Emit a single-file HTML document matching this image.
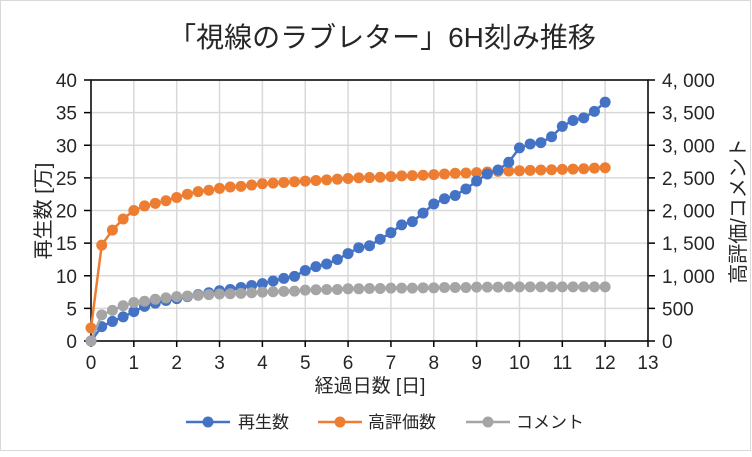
<!DOCTYPE html>
<html><head><meta charset="utf-8"><style>
body{margin:0;background:#fff}
svg text{font-family:"Liberation Sans","Noto Sans CJK JP",sans-serif;fill:#262626}
</style></head><body>
<svg id="s" width="752" height="452" xmlns="http://www.w3.org/2000/svg">
<rect x="0.5" y="0.5" width="750" height="450" fill="#fff" stroke="#d9d9d9"/>
<text x="382" y="47" text-anchor="middle" font-size="28">「視線のラブレター」6H刻み推移</text>
<g id="g"></g>
<text transform="translate(50,211) rotate(-90)" text-anchor="middle" font-size="20">再生数 [万]</text>
<text transform="translate(745,211) rotate(-90)" text-anchor="middle" font-size="20">高評価/コメント</text>
<text x="370" y="392" text-anchor="middle" font-size="19">経過日数 [日]</text>
<line x1="186" y1="422" x2="230" y2="422" stroke="#4472c4" stroke-width="2.5"/><circle cx="208" cy="422" r="5.5" fill="#4472c4"/>
<text x="238" y="428" font-size="17">再生数</text>
<line x1="318" y1="422" x2="362" y2="422" stroke="#ed7d31" stroke-width="2.5"/><circle cx="340" cy="422" r="5.5" fill="#ed7d31"/>
<text x="368" y="428" font-size="17">高評価数</text>
<line x1="466" y1="422" x2="510" y2="422" stroke="#a5a5a5" stroke-width="2.5"/><circle cx="488" cy="422" r="5.5" fill="#a5a5a5"/>
<text x="516" y="428" font-size="17">コメント</text>
</svg>
<script>
var g=document.getElementById('g'),h='';
var X0=91,X1=648,Y0=341,Y1=80,ux=(X1-X0)/13,uy=(Y0-Y1)/40;
function X(v){return X0+v*ux}function YL(v){return Y0-v*uy}function YR(v){return Y0-v*uy/100}
for(var i=0;i<=8;i++){var y=YL(i*5);h+='<line x1="'+X0+'" y1="'+y+'" x2="'+X1+'" y2="'+y+'" stroke="#d9d9d9" stroke-width="1.5"/>';
h+='<line x1="'+(X0-7)+'" y1="'+y+'" x2="'+X0+'" y2="'+y+'" stroke="#000" stroke-width="1.5"/><line x1="'+X1+'" y1="'+y+'" x2="'+(X1+7)+'" y2="'+y+'" stroke="#000" stroke-width="1.5"/>';
h+='<text x="'+(X0-14)+'" y="'+(y+7)+'" text-anchor="end" font-size="19">'+(i*5)+'</text>';
var r=i*500;var rs=r>=1000?Math.floor(r/1000)+', '+String(r%1000).padStart(3,'0'):r;
h+='<text x="'+(X1+14)+'" y="'+(y+7)+'" font-size="19">'+rs+'</text>';}
for(var i=0;i<=13;i++){var x=X(i);h+='<line x1="'+x+'" y1="'+Y1+'" x2="'+x+'" y2="'+Y0+'" stroke="#d9d9d9" stroke-width="1.5"/>';
h+='<line x1="'+x+'" y1="'+Y0+'" x2="'+x+'" y2="'+(Y0+6)+'" stroke="#000" stroke-width="1.5"/>';
h+='<text x="'+x+'" y="'+(Y0+28)+'" text-anchor="middle" font-size="19">'+i+'</text>';}
h+='<rect x="'+X0+'" y="'+Y1+'" width="'+(X1-X0)+'" height="'+(Y0-Y1)+'" fill="none" stroke="#000" stroke-width="1.5"/>';
var B=[0,2.2,3,3.7,4.5,5.3,5.8,6.2,6.5,6.8,7.1,7.4,7.7,7.9,8.2,8.5,8.8,9.2,9.6,9.9,10.8,11.4,11.8,12.5,13.4,14.3,14.6,15.6,16.6,17.8,18.3,19.6,21,21.8,22.3,23.3,24.5,25.6,26.2,27.4,29.6,30.2,30.4,31.3,32.9,33.8,34.2,35.2,36.6];
var O=[200,1470,1700,1870,2000,2070,2110,2150,2200,2250,2290,2310,2340,2360,2370,2390,2410,2420,2430,2440,2450,2460,2470,2480,2490,2500,2505,2510,2520,2530,2535,2540,2550,2560,2570,2575,2580,2590,2600,2605,2610,2615,2620,2625,2630,2635,2640,2650,2655];
var G=[0,400,470,540,590,610,640,660,680,690,700,710,720,725,730,740,750,755,760,765,780,785,790,790,800,800,805,805,810,810,810,815,815,820,820,820,825,825,825,830,830,830,830,830,830,830,830,830,830];
function ser(d,f,c){var p=d.map(function(v,i){return X(i*0.25)+','+f(v)}).join(' ');
h+='<polyline points="'+p+'" fill="none" stroke="'+c+'" stroke-width="2.5"/>';
d.forEach(function(v,i){h+='<circle cx="'+X(i*0.25)+'" cy="'+f(v)+'" r="5.5" fill="'+c+'"/>'});}
ser(O,YR,'#ed7d31');ser(B,YL,'#4472c4');ser(G,YR,'#a5a5a5');
g.innerHTML=h;
</script>
</body></html>
